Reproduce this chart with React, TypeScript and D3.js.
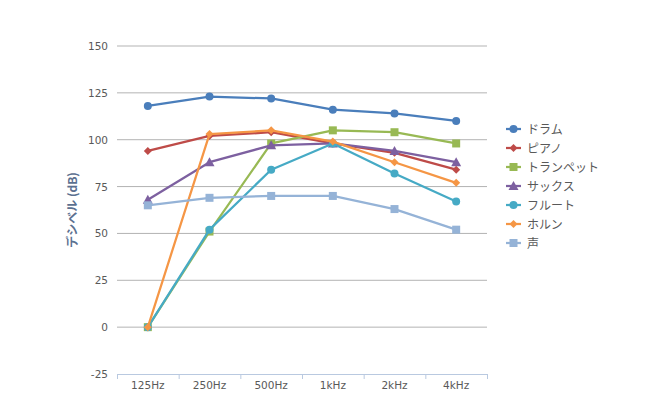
import React from "react";
import * as d3 from "d3";

const categories = ["125Hz", "250Hz", "500Hz", "1kHz", "2kHz", "4kHz"];
const seriesNames = ["ドラム", "ピアノ", "トランペット", "サックス", "フルート", "ホルン", "声"];
const drum = [118, 123, 122, 116, 114, 110];
const piano = [94, 102, 104, 98, 93, 84];
const trumpet = [0, 51, 98, 105, 104, 98];
const sax = [68, 88, 97, 98, 94, 88];
const flute = [0, 52, 84, 98, 82, 67];
const horn = [0, 103, 105, 99, 88, 77];
const voice = [65, 69, 70, 70, 63, 52];
const yTicks = [-25, 0, 25, 50, 75, 100, 125, 150];
const colors = ["#4A7EBB", "#BE4B48", "#98B954", "#7D60A0", "#46AAC5", "#F59645", "#95B3D7"];
const markers = ["circle", "diamond", "square", "triangle", "circle", "diamond", "square"];
const seriesData = [drum, piano, trumpet, sax, flute, horn, voice];

const W = 668, H = 406;
const left = 117, right = 487, top = 46, bottom = 374;

function Marker({ type, x, y, color }: { type: string; x: number; y: number; color: string }) {
  if (type === "circle") return <circle cx={x} cy={y} r={4} fill={color} />;
  if (type === "square") return <rect x={x - 4} y={y - 4} width={8} height={8} fill={color} />;
  if (type === "diamond")
    return <path d={`M${x},${y - 4}L${x + 4},${y}L${x},${y + 4}L${x - 4},${y}Z`} fill={color} />;
  return <path d={`M${x},${y - 5}L${x + 5},${y + 4}L${x - 5},${y + 4}Z`} fill={color} />;
}

export default function App() {
  const x = d3.scaleBand<string>().domain(categories).range([left, right]);
  const y = d3.scaleLinear().domain([-25, 150]).range([bottom, top]);
  const line = d3
    .line<number>()
    .x((_, i) => (x(categories[i]) as number) + x.bandwidth() / 2)
    .y((d) => y(d));
  const font = "'DejaVu Sans', Verdana, sans-serif";
  const jfont = "'Noto Sans CJK JP', sans-serif";
  const boundaries = categories.map((c) => x(c) as number).concat([right]);
  return (
    <svg width={W} height={H} style={{ position: "absolute", left: 0, top: 0 }}>
      <rect width={W} height={H} fill="#fff" />
      {yTicks.map((t) =>
        t === -25 ? null : (
          <line key={t} x1={left} x2={right} y1={y(t)} y2={y(t)} stroke="#B3B3B3" strokeWidth={1} />
        )
      )}
      {yTicks.map((t) => (
        <text key={"l" + t} x={108} y={y(t) + 4} textAnchor="end" fontSize={10.5} fill="#595959" fontFamily={font}>
          {t}
        </text>
      ))}
      <line x1={left} x2={right} y1={bottom + 0.5} y2={bottom + 0.5} stroke="#B9C9E0" strokeWidth={1} />
      {boundaries.map((b, i) => (
        <line key={"tk" + i} x1={b + 0.5} x2={b + 0.5} y1={bottom} y2={bottom + 5} stroke="#B9C9E0" />
      ))}
      {categories.map((c) => (
        <text key={c} x={(x(c) as number) + x.bandwidth() / 2} y={bottom + 15} textAnchor="middle" fontSize={10.5} fill="#595959" fontFamily={font}>
          {c}
        </text>
      ))}
      <text
        transform={`translate(77,${(top + bottom) / 2}) rotate(-90)`}
        textAnchor="middle"
        fontSize={12}
        fontWeight="bold"
        fill="#5B7090"
        fontFamily={jfont}
      >
        デシベル (dB)
      </text>
      {seriesData.map((s, i) => (
        <g key={seriesNames[i]}>
          <path d={line(s) || ""} fill="none" stroke={colors[i]} strokeWidth={2.25} strokeLinejoin="round" />
          {s.map((v, j) => (
            <Marker key={j} type={markers[i]} x={(x(categories[j]) as number) + x.bandwidth() / 2} y={y(v)} color={colors[i]} />
          ))}
        </g>
      ))}
      {seriesNames.map((n, i) => {
        const ly = 129 + i * 19;
        return (
          <g key={"lg" + n}>
            <line x1={506} x2={521} y1={ly} y2={ly} stroke={colors[i]} strokeWidth={2.25} />
            <Marker type={markers[i]} x={513.5} y={ly} color={colors[i]} />
            <text x={527} y={ly + 4.5} fontSize={12} fill="#595959" fontFamily={jfont}>
              {n}
            </text>
          </g>
        );
      })}
    </svg>
  );
}
